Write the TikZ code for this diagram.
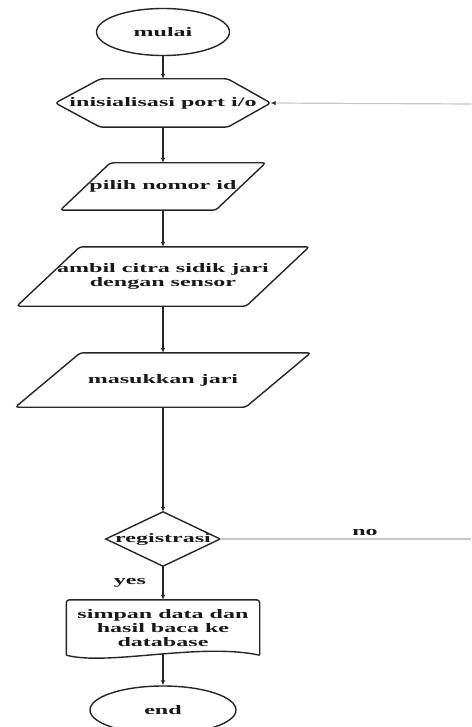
\documentclass[tikz,border=0pt]{standalone}
\usepackage{fontspec}
\newfontfamily\fcfont{Liberation Serif}[FakeStretch=1.85]
\usetikzlibrary{shapes.geometric,arrows.meta}
\begin{document}
\begin{tikzpicture}[x=1pt,y=-1pt,
  lbl/.style={font=\fcfont\bfseries\fontsize{13}{14}\selectfont, align=center, inner sep=0pt, text=black!90},
  outline/.style={draw=black!85, line width=1.4pt},
  flow/.style={draw=black!85, line width=1.1pt, -{Latex[length=5pt,width=4.5pt]}},
  gline/.style={draw=black!22, line width=1.2pt}]

\useasboundingbox (0,0) rectangle (471,727);

% terminals
\node[lbl, ellipse, outline, minimum width=133pt, minimum height=47pt] (start) at (163,32) {mulai};
\node[lbl, ellipse, outline, minimum width=146pt, minimum height=48pt] (stop) at (163,710) {end};

% preparation (hexagon)
\node[lbl, minimum width=215pt, minimum height=48pt] (init) at (163,103) {inisialisasi port i/o};
\draw[outline, rounded corners=3pt] (init.west) -- ([xshift=45pt]init.north west) -- ([xshift=-43pt]init.north east)
  -- (init.east) -- ([xshift=-43pt]init.south east) -- ([xshift=45pt]init.south west) -- cycle;

% input / output (parallelograms)
\node[lbl, minimum width=205pt, minimum height=47pt] (pilih) at (163,186.5) {pilih nomor id};
\draw[outline, rounded corners=3pt] ([xshift=50pt]pilih.north west) -- (pilih.north east)
  -- ([xshift=-50pt]pilih.south east) -- (pilih.south west) -- cycle;

\node[lbl, minimum width=292pt, minimum height=59pt] (ambil) at (163,276.5) {ambil citra sidik jari\\dengan sensor};
\draw[outline, rounded corners=3pt] ([xshift=63pt]ambil.north west) -- (ambil.north east)
  -- ([xshift=-63pt]ambil.south east) -- (ambil.south west) -- cycle;

\node[lbl, minimum width=295pt, minimum height=54pt] (jari) at (163,380) {masukkan jari};
\draw[outline, rounded corners=3pt] ([xshift=65pt]jari.north west) -- (jari.north east)
  -- ([xshift=-65pt]jari.south east) -- (jari.south west) -- cycle;

% decision
\node[lbl, minimum width=114pt, minimum height=54pt] (reg) at (163,539) {registrasi};
\draw[outline] (reg.north) -- (reg.east) -- (reg.south) -- (reg.west) -- cycle;

% document
\node[lbl, minimum width=193pt, minimum height=56pt] (simpan) at (163,628) {simpan data dan\\hasil baca ke\\database};
\draw[outline, rounded corners=3pt] ([yshift=1pt]simpan.south west) -- (simpan.north west) -- (simpan.north east)
  -- ([yshift=1pt]simpan.south east);
\draw[outline] ([yshift=1pt]simpan.south east) .. controls ([xshift=-60pt,yshift=14pt]simpan.south east)
  and ([xshift=42pt,yshift=-10pt]simpan.south west) .. ([yshift=1pt]simpan.south west);

% labels
\node[lbl] (no) at (365,532) {no};
\node[lbl] (yes) at (130,583) {yes};

% loop-back line ends
\coordinate (backin) at (471,104);
\coordinate (backout) at (471,539);

% connectors
\draw[flow] (start.south) -- (init.north);
\draw[flow] (init.south) -- (pilih.north);
\draw[flow] (pilih.south) -- (ambil.north);
\draw[flow] (ambil.south) -- (jari.north);
\draw[flow] (jari.south) -- (reg.north);
\draw[flow] (reg.south) -- (simpan.north);
\draw[flow] ([yshift=3pt]simpan.south) -- (stop.north);
\draw[gline] (reg.east) -- (backout);
\draw[gline, -{Latex[length=5pt,width=4.5pt,black!85]}] (backin) -- (init.east);

\end{tikzpicture}
\end{document}
